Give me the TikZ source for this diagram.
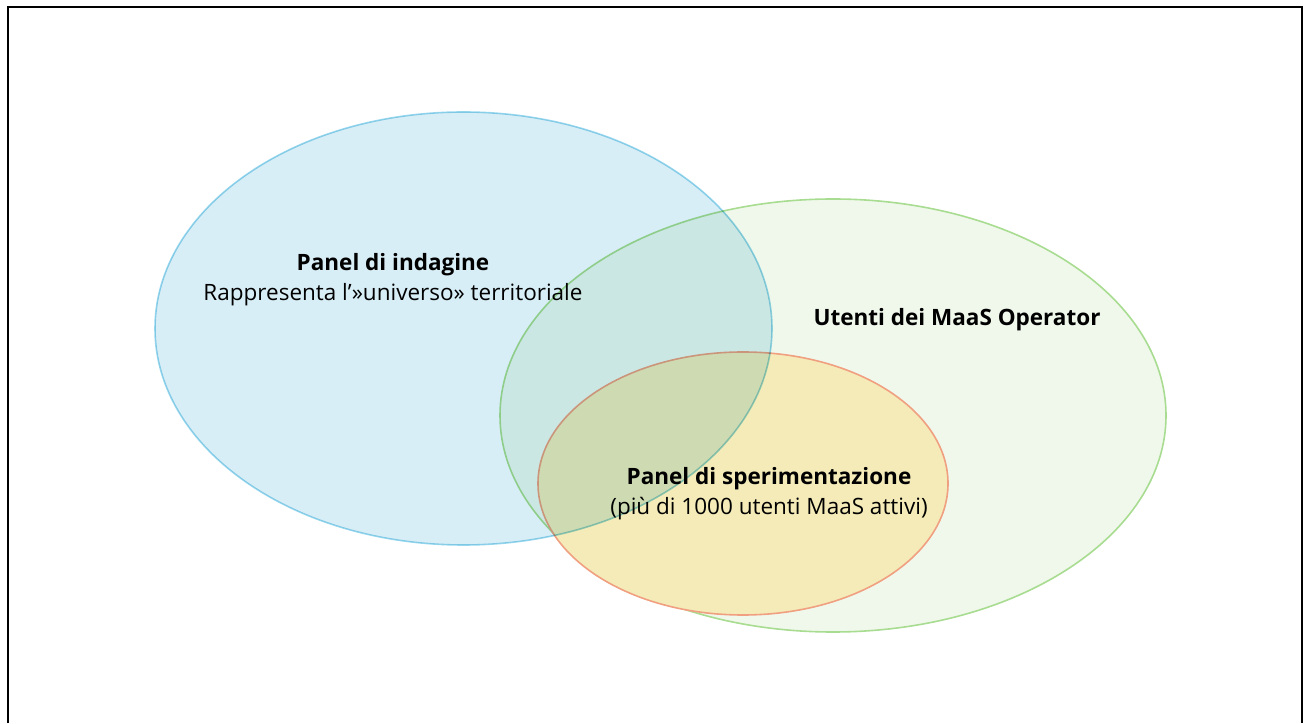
\documentclass[tikz,border=0pt]{standalone}
\usepackage{fontspec}
\setmainfont{Open Sans}
\definecolor{indagineFill}{RGB}{216,238,246}
\definecolor{indagineLine}{RGB}{150,215,238}
\definecolor{utentiFill}{RGB}{240,248,236}
\definecolor{utentiLine}{RGB}{168,220,144}
\definecolor{speriFill}{RGB}{244,235,185}
\definecolor{speriLine}{RGB}{240,160,128}
\tikzset{
  setline/.style={line width=1.6pt},
  settext/.style={align=center, font=\fontsize{22.5}{30}\selectfont, inner sep=0pt}
}
\begin{document}
\begin{tikzpicture}[x=1pt,y=1pt]
		\useasboundingbox (0,0) rectangle (1304,723);
		% Frame
		\draw[line width=2pt] (8,0) -- (8,716) -- (1301.5,716) -- (1301.5,0);

		% Utenti dei MaaS Operator
		\draw[setline, utentiLine, fill=utentiFill] (833,307.5) ellipse [x radius=333, y radius=216.5];
		\node[settext] (utenti) at (957,403) {\textbf{Utenti dei MaaS Operator}};

		% Panel di sperimentazione
		\draw[setline, speriLine, fill=speriFill] (743,239.5) ellipse [x radius=205, y radius=131.5];

		% Panel di indagine
		\begin{scope}[blend mode=multiply]
			\draw[setline, indagineLine, fill=indagineFill] (463.5,394.5) ellipse [x radius=308.5, y radius=216.5];
		\end{scope}
		\node[settext] (indagine) at (393,443) {\textbf{Panel di indagine}\\Rappresenta l’»universo» territoriale};
		\node[settext] (speri) at (769,229) {\textbf{Panel di sperimentazione}\\(più di 1000 utenti MaaS attivi)};
	\end{tikzpicture}
\end{document}
